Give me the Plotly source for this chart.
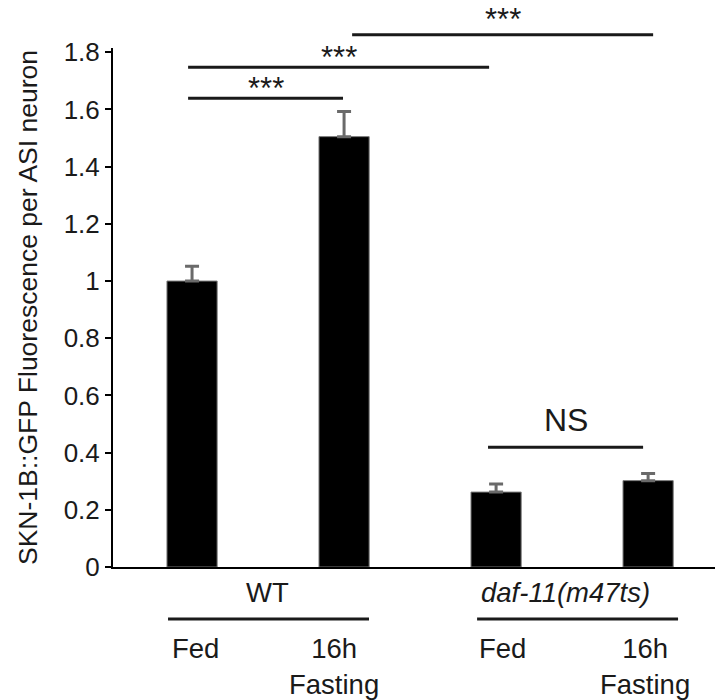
import plotly.graph_objects as go

# ---- data ----
categories = ["WT Fed", "WT 16h Fasting", "daf-11 Fed", "daf-11 16h Fasting"]
values = [1.0, 1.505, 0.262, 0.302]
errors = [0.052, 0.088, 0.028, 0.025]
y_ticks = [0, 0.2, 0.4, 0.6, 0.8, 1.0, 1.2, 1.4, 1.6, 1.8]

# significance brackets
sig_start = [-0.026, -0.026, 1.053, 1.947]
sig_end = [0.993, 1.954, 3.033, 2.967]
sig_height = [1.639, 1.748, 1.861, 0.419]
sig_label = ["***", "***", "***", "NS"]

group_labels = ["WT", "<i>daf-11(m47ts)</i>"]
condition_labels = ["Fed", "16h<br>Fasting"]

Y_MAX = 1.815
PLOT_H = 519  # pixel height of plot area
FONT = "Liberation Sans, Arial, sans-serif"
INK = "#1a1a1a"

x_idx = list(range(len(categories)))

fig = go.Figure()
fig.add_trace(go.Bar(
    x=x_idx, y=values, width=0.33,
    marker=dict(color="black", line=dict(color="#777777", width=1)),
    error_y=dict(type="data", array=errors, arrayminus=[0] * len(errors),
                 symmetric=False, color="#6a6a6a", thickness=3, width=7),
    showlegend=False,
))

shapes = []
annotations = []
label_gap_px = [10, 10, 15, 27]
for s, e, h, lab, gap in zip(sig_start, sig_end, sig_height, sig_label, label_gap_px):
    yp = h / Y_MAX
    shapes.append(dict(type="line", xref="x", yref="paper", x0=s, x1=e, y0=yp, y1=yp,
                       line=dict(color=INK, width=3)))
    is_ns = lab == "NS"
    annotations.append(dict(
        x=(s + e) / 2, y=yp + gap / PLOT_H,
        xref="x", yref="paper", text=lab, showarrow=False, yanchor="middle",
        font=dict(family=FONT, size=32 if is_ns else 31, color=INK),
    ))

# group underline & labels
group_spans = [(-0.158, 1.164), (1.875, 3.197)]
group_centers = [0.493, 2.454]
for (a, b), c, g in zip(group_spans, group_centers, group_labels):
    shapes.append(dict(type="line", xref="x", yref="paper", x0=a, x1=b, y0=-0.100, y1=-0.100,
                       line=dict(color=INK, width=3)))
    annotations.append(dict(x=c, y=-0.050, xref="x", yref="paper", text=g, showarrow=False,
                            yanchor="middle", font=dict(family=FONT, size=27.5, color=INK)))

cond_x = [0.02, 0.934, 2.04, 2.98]
for i, cx in enumerate(cond_x):
    lab = condition_labels[i % 2]
    annotations.append(dict(x=cx, y=-0.123, xref="x", yref="paper", text=lab, showarrow=False,
                            yanchor="top", align="center",
                            font=dict(family=FONT, size=27.5, color=INK)))

fig.update_layout(
    width=715, height=700,
    margin=dict(l=113, r=0, t=48, b=133),
    paper_bgcolor="white", plot_bgcolor="white",
    shapes=shapes, annotations=annotations,
    xaxis=dict(range=[-0.52, 3.44], showticklabels=False, ticks="", showgrid=False,
               zeroline=False, showline=True, linecolor="black", linewidth=2),
    yaxis=dict(range=[0, Y_MAX], tickvals=y_ticks, ticks="outside", ticklen=6, tickwidth=2,
               tickcolor="black", showgrid=False, zeroline=False, showline=True,
               linecolor="black", linewidth=2,
               tickfont=dict(family=FONT, size=26, color=INK),
               title=dict(text="SKN-1B::GFP Fluorescence per ASI neuron",
                          font=dict(family=FONT, size=26.5, color=INK), standoff=18)),
)

fig.write_html("out.html")
